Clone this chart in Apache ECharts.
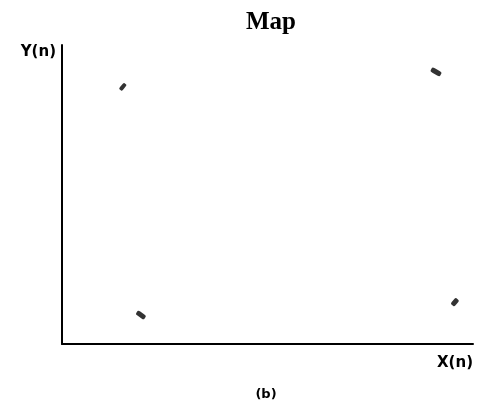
<!DOCTYPE html>
<html>
<head>
<meta charset="utf-8">
<script src="https://cdn.jsdelivr.net/npm/echarts@6/dist/echarts.min.js"></script>
<style>html,body{margin:0;padding:0;background:#fff;}#c{width:483px;height:404px;}</style>
</head>
<body>
<div id="c"></div>
<script>
// Data values (axis range 0..100)
const xValues = [14.8, 91.0, 19.2, 95.6];
const yValues = [86.0, 91.0, 9.7, 14.0];
const titleText = 'Map';
const xAxisName = 'X(n)';
const yAxisName = 'Y(n)';
const captionText = '(b)';

// Styles (not data)
const markAngles = [50, -30, -35, 50];
const markSizes = [[8, 4], [11, 5], [10, 5], [8, 5]];

const points = xValues.map((x, i) => [x, yValues[i]]);

const chart = echarts.init(document.getElementById('c'), null, {renderer: 'canvas'});
chart.setOption({
  backgroundColor: '#fff',
  animation: false,
  title: [
    {text: titleText, left: 266, top: 5, textAlign: 'center',
     textStyle: {fontFamily: 'Liberation Serif', fontWeight: 'bold', fontSize: 25, color: '#000'}},
    {text: captionText, left: 261, top: 383, textAlign: 'center',
     textStyle: {fontFamily: 'DejaVu Sans', fontWeight: 'bold', fontSize: 13, color: '#000'}}
  ],
  grid: {left: 62, right: 10, top: 45, bottom: 60, containLabel: false},
  xAxis: {
    type: 'value', min: 0, max: 100,
    name: xAxisName, nameLocation: 'end', nameGap: 0,
    nameTextStyle: {fontFamily: 'DejaVu Sans', fontWeight: 'bold', fontSize: 15, color: '#000',
      align: 'right', verticalAlign: 'top', padding: [12, 0, 0, 0]},
    axisLine: {show: true, onZero: false, lineStyle: {color: '#000', width: 2}},
    axisTick: {show: false}, axisLabel: {show: false}, splitLine: {show: false}
  },
  yAxis: {
    type: 'value', min: 0, max: 100,
    name: yAxisName, nameLocation: 'end', nameGap: 0,
    nameTextStyle: {fontFamily: 'DejaVu Sans', fontWeight: 'bold', fontSize: 15, color: '#000',
      align: 'right', verticalAlign: 'top', padding: [0, 6, 0, 0]},
    axisLine: {show: true, onZero: false, lineStyle: {color: '#000', width: 2}},
    axisTick: {show: false}, axisLabel: {show: false}, splitLine: {show: false}
  },
  series: [{
    type: 'scatter',
    data: points,
    symbol: 'roundRect',
    symbolSize: (v, p) => markSizes[p.dataIndex],
    symbolRotate: (v, p) => markAngles[p.dataIndex],
    itemStyle: {color: '#000'}
  }]
});
</script>
</body>
</html>
